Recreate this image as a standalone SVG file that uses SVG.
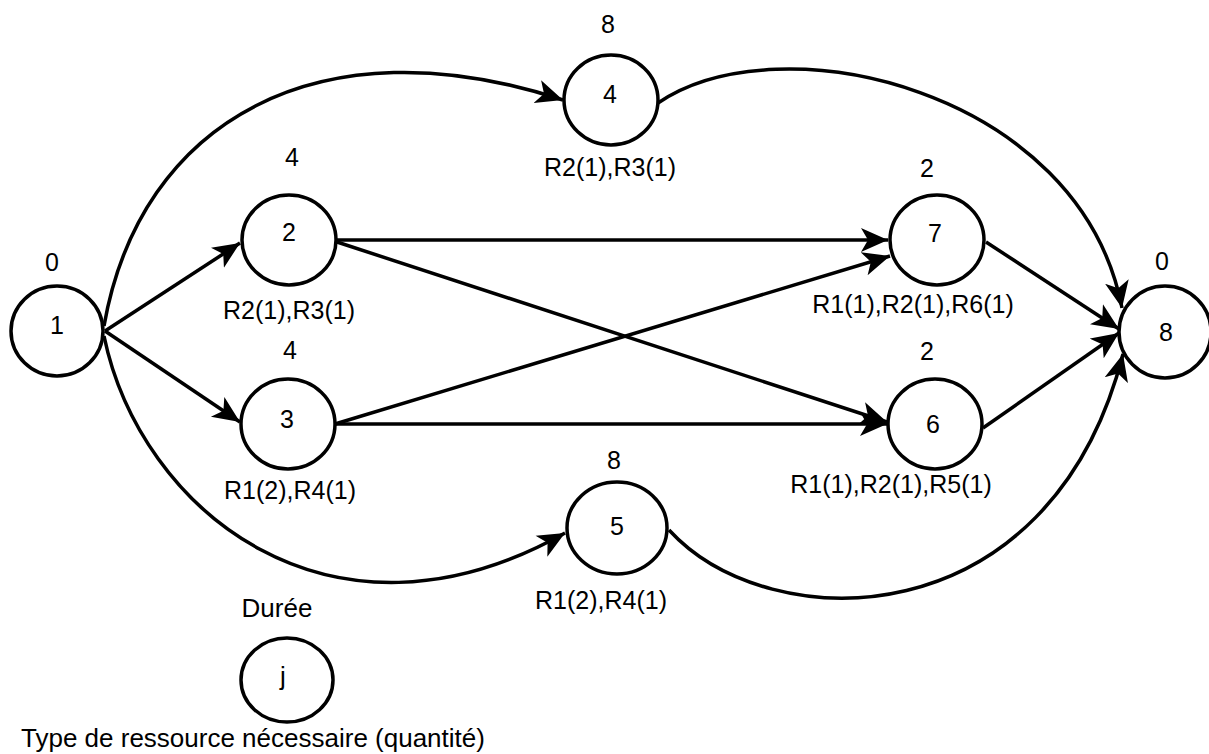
<svg xmlns="http://www.w3.org/2000/svg" width="1209" height="754" viewBox="0 0 1209 754">
  <defs>
    <marker id="arrow" markerUnits="userSpaceOnUse" markerWidth="28" markerHeight="26" refX="27" refY="13" orient="auto" viewBox="0 0 28 26">
      <path d="M0,1 L27,13 L0,25 L7,13 z" fill="#000"/>
    </marker>
    <style>
      .node { fill: #fff; stroke: #000; stroke-width: 3.5; }
      .edge { fill: none; stroke: #000; stroke-width: 3.5; marker-end: url(#arrow); }
      text { font-family: "Liberation Sans", Arial, sans-serif; font-size: 25px; fill: #000; text-anchor: middle; }
      .legend-text { font-size: 26px; }
    </style>
  </defs>
  <rect width="1209" height="754" fill="#fff"/>

  <!-- connectors -->
  <g id="connectors">
    <path class="edge" d="M105,331 L240,243"/>
    <path class="edge" d="M105,331 L240,422"/>
    <path class="edge" d="M104,326 C140,120 320,20 563,100"/>
    <path class="edge" d="M104,336 C140,510 330,665 565,533"/>
    <path class="edge" d="M658,103 C780,20 1080,90 1122,308"/>
    <path class="edge" d="M669,530 C770,640 1050,640 1123,354"/>
    <path class="edge" d="M337,240 L888,240"/>
    <path class="edge" d="M337,242 L887,422"/>
    <path class="edge" d="M335,424 L890,256"/>
    <path class="edge" d="M335,424 L887,424"/>
    <path class="edge" d="M986,242 L1119,329"/>
    <path class="edge" d="M983,428 L1119,333"/>
  </g>

  <!-- task nodes: duration above, id inside, resources below -->
  <g id="node-1">
    <ellipse class="node" cx="57" cy="331" rx="46" ry="45"/>
    <text x="52" y="271">0</text>
    <text x="57" y="334">1</text>
  </g>
  <g id="node-2">
    <ellipse class="node" cx="289" cy="240" rx="47" ry="45"/>
    <text x="292" y="166">4</text>
    <text x="289" y="241">2</text>
    <text x="289" y="319">R2(1),R3(1)</text>
  </g>
  <g id="node-3">
    <ellipse class="node" cx="288" cy="424" rx="47" ry="45"/>
    <text x="290" y="359">4</text>
    <text x="287" y="428">3</text>
    <text x="290" y="499">R1(2),R4(1)</text>
  </g>
  <g id="node-4">
    <ellipse class="node" cx="611" cy="100" rx="47" ry="45"/>
    <text x="608" y="33">8</text>
    <text x="610" y="103">4</text>
    <text x="610" y="176">R2(1),R3(1)</text>
  </g>
  <g id="node-5">
    <ellipse class="node" cx="617" cy="528" rx="50" ry="46"/>
    <text x="614" y="469">8</text>
    <text x="617" y="535">5</text>
    <text x="601" y="609">R1(2),R4(1)</text>
  </g>
  <g id="node-7">
    <ellipse class="node" cx="937" cy="240" rx="47" ry="45"/>
    <text x="927" y="177">2</text>
    <text x="935" y="242">7</text>
    <text x="913" y="313">R1(1),R2(1),R6(1)</text>
  </g>
  <g id="node-6">
    <ellipse class="node" cx="935" cy="424" rx="47" ry="45"/>
    <text x="927" y="360">2</text>
    <text x="933" y="433">6</text>
    <text x="891" y="493">R1(1),R2(1),R5(1)</text>
  </g>
  <g id="node-8">
    <ellipse class="node" cx="1165" cy="332" rx="46" ry="46"/>
    <text x="1162" y="270">0</text>
    <text x="1166" y="341">8</text>
  </g>

  <!-- legend -->
  <g id="legend">
    <text class="legend-text" x="277" y="617">Durée</text>
    <ellipse class="node" cx="287" cy="680" rx="46" ry="42"/>
    <text class="legend-text" x="283" y="685">j</text>
    <text class="legend-text" x="21" y="747" style="text-anchor:start">Type de ressource nécessaire (quantité)</text>
  </g>
</svg>
